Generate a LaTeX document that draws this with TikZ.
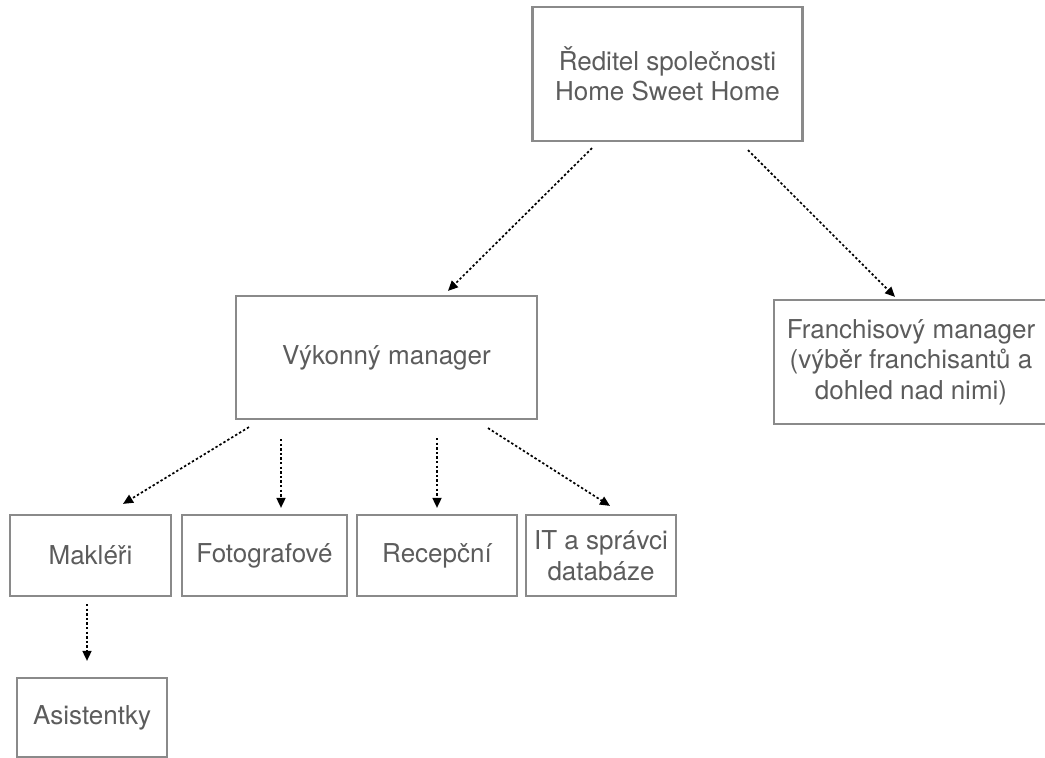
\documentclass[tikz,border=0pt]{standalone}
\usepackage{fontspec}
\setmainfont{TeX Gyre Heros}
\usetikzlibrary{arrows.meta}
\definecolor{boxgray}{HTML}{8A8A8A}
\definecolor{textgray}{HTML}{5C5C5C}
\tikzset{
	orgbox/.style={draw=boxgray,line width=2.2pt,align=center,text=textgray,font=\fontsize{26}{30.5}\selectfont,inner sep=0pt},
	link/.style={line width=1.7pt,dash pattern=on 2.4pt off 2.2pt,-{Triangle[length=10pt,width=9pt]}}
}

\begin{document}
\begin{tikzpicture}[x=1pt,y=1pt]
				\useasboundingbox (0,0) rectangle (1045,758);
				\fill[white] (0,0) rectangle (1045,758);
				\begin{scope}
					\clip (0,0) rectangle (1045,758);
					\node[orgbox,minimum width=270,minimum height=134] (dir) at (667.5,684) {\v{R}editel spole\v{c}nosti\\Home Sweet Home};
					\node[orgbox,minimum width=301,minimum height=123] (vm) at (386.5,400.5) {Výkonný manager};
					\node[orgbox,minimum width=274,minimum height=124] (fm) at (911,396) {Franchisový manager\\(výb\v{e}r franchisant\r{u} a\\dohled nad nimi)};

					\node[orgbox,minimum width=161,minimum height=81] (mak) at (90.5,202.5) {Makléři};
					\node[orgbox,minimum width=165,minimum height=81] (foto) at (264.5,202.5) {Fotografové};
					\node[orgbox,minimum width=160,minimum height=81] (rec) at (437,202.5) {Recepční};
					\node[orgbox,minimum width=150,minimum height=81] (it) at (601,202.5) {IT a správci\\databáze};
					\node[orgbox,minimum width=150,minimum height=79] (asi) at (92,40.5) {Asistentky};
				\end{scope}

				\draw[link] ([xshift=-75.5,yshift=-6]dir.south)--([xshift=61.5,yshift=4]vm.north);
				\draw[link] ([xshift=80.5,yshift=-8]dir.south)--([xshift=-16,yshift=2]fm.north);

				\draw[link] ([xshift=-137.5,yshift=-7]vm.south)--([xshift=32.5,yshift=10]mak.north);
				\draw[link] ([xshift=-105.5,yshift=-19]vm.south)--([xshift=16.5,yshift=6]foto.north);
				\draw[link] ([xshift=50.5,yshift=-18]vm.south)--([yshift=6]rec.north);
				\draw[link] ([xshift=101.5,yshift=-8]vm.south)--([xshift=9,yshift=8]it.north);

				\draw[link] ([xshift=-3.5,yshift=-7]mak.south)--([xshift=-5,yshift=16]asi.north);
			\end{tikzpicture}
\end{document}
